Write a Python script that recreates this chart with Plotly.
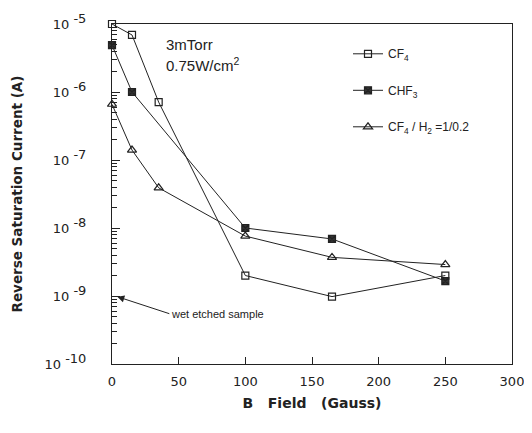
import plotly.graph_objects as go

b_field_cf4 = [0, 15, 35, 100, 165, 250]
current_cf4 = [1.0e-5, 6.9e-6, 7.1e-7, 2.0e-9, 9.8e-10, 2.0e-9]

b_field_chf3 = [0, 15, 100, 165, 250]
current_chf3 = [4.9e-6, 1.0e-6, 1.0e-8, 6.9e-9, 1.66e-9]

b_field_h2 = [0, 15, 35, 100, 165, 250]
current_h2 = [6.6e-7, 1.4e-7, 3.9e-8, 7.6e-9, 3.7e-9, 2.9e-9]

wet_etched = (4, 9.8e-10)

y_tickvals = [1e-10, 1e-9, 1e-8, 1e-7, 1e-6, 1e-5]
y_exponents = ["-10", "-9", "-8", "-7", "-6", "-5"]
x_tickvals = [0, 50, 100, 150, 200, 250, 300]
minor_vals = [m * 10.0 ** e for e in range(-10, -5) for m in range(2, 10)]

font_family = "Liberation Sans, Arial, sans-serif"
wide_family = "DejaVu Sans, Verdana, sans-serif"
ink = "#222222"

y_ticktext = ['10 <sup><span style="font-size:13px">%s</span></sup>' % e for e in y_exponents]

fig = go.Figure()
fig.add_trace(go.Scatter(
    x=b_field_cf4, y=current_cf4, name="CF<sub>4</sub>", mode="lines+markers",
    line=dict(color=ink, width=1),
    marker=dict(symbol="square-open", size=7, color=ink, line=dict(width=1.2)),
    cliponaxis=False, legendgroup="a"))
fig.add_trace(go.Scatter(
    x=b_field_chf3, y=current_chf3, name="CHF<sub>3</sub>", mode="lines+markers",
    line=dict(color=ink, width=1),
    marker=dict(symbol="square-x", size=7, color="#333333", line=dict(width=1.2, color=ink)),
    cliponaxis=False, legendgroup="b"))
fig.add_trace(go.Scatter(
    x=b_field_h2, y=current_h2, name="CF<sub>4</sub> / H<sub>2</sub> =1/0.2", mode="lines+markers",
    line=dict(color=ink, width=1),
    marker=dict(symbol="triangle-up-open", size=8, color=ink, line=dict(width=1.2)),
    cliponaxis=False, legendgroup="c"))

fig.add_annotation(
    x=wet_etched[0], y=-9.01, xref="x", yref="y",
    text="wet etched sample", showarrow=True, arrowhead=2, arrowsize=1.4,
    arrowwidth=1, arrowcolor=ink, axref="pixel", ayref="pixel", ax=52, ay=17,
    xanchor="left", font=dict(size=11, color=ink, family=font_family))
fig.add_annotation(
    x=0.13, y=0.94, xref="paper", yref="paper", xanchor="left", yanchor="middle",
    text="3mTorr", showarrow=False, align="left",
    font=dict(size=15, color=ink, family=font_family))
fig.add_annotation(
    x=0.13, y=0.88, xref="paper", yref="paper", xanchor="left", yanchor="middle",
    text="0.75W/cm<sup>2</sup>", showarrow=False, align="left",
    font=dict(size=15, color=ink, family=font_family))

fig.update_xaxes(
    range=[0, 300], tickvals=x_tickvals, ticks="inside", ticklen=7, tickcolor=ink,
    showline=True, linecolor=ink, linewidth=1, mirror=True, showgrid=False, zeroline=False,
    tickfont=dict(size=13, color=ink, family=wide_family), ticklabelstandoff=5,
    automargin=False,
    title=dict(text="<b>B&nbsp;&nbsp;&nbsp;Field&nbsp;&nbsp;&nbsp;(Gauss)</b>",
               font=dict(size=14, color=ink, family=wide_family), standoff=10))
fig.update_yaxes(
    type="log", range=[-10, -5], tickvals=y_tickvals, ticktext=y_ticktext,
    ticks="inside", ticklen=8, tickcolor=ink,
    minor=dict(tickmode="array", tickvals=minor_vals, ticks="inside", ticklen=5,
               tickcolor=ink, showgrid=False),
    showline=True, linecolor=ink, linewidth=1, mirror=True, showgrid=False, zeroline=False,
    tickfont=dict(size=13, color=ink, family=wide_family), ticklabelstandoff=22,
    ticklabeloverflow="allow",
    automargin=False,
    title=dict(text="<b>Reverse Saturation Current (A)</b>",
               font=dict(size=13.5, color=ink, family=wide_family), standoff=18))

fig.update_layout(
    width=524, height=425, paper_bgcolor="white", plot_bgcolor="white",
    margin=dict(l=104, r=20, t=16, b=69),
    showlegend=True,
    legend=dict(x=0.59, y=0.955, xanchor="left", yanchor="top", bgcolor="rgba(0,0,0,0)",
                font=dict(size=12, color=ink, family=font_family), tracegroupgap=17.5,
                itemwidth=30),
)

fig.write_html("out.html")
